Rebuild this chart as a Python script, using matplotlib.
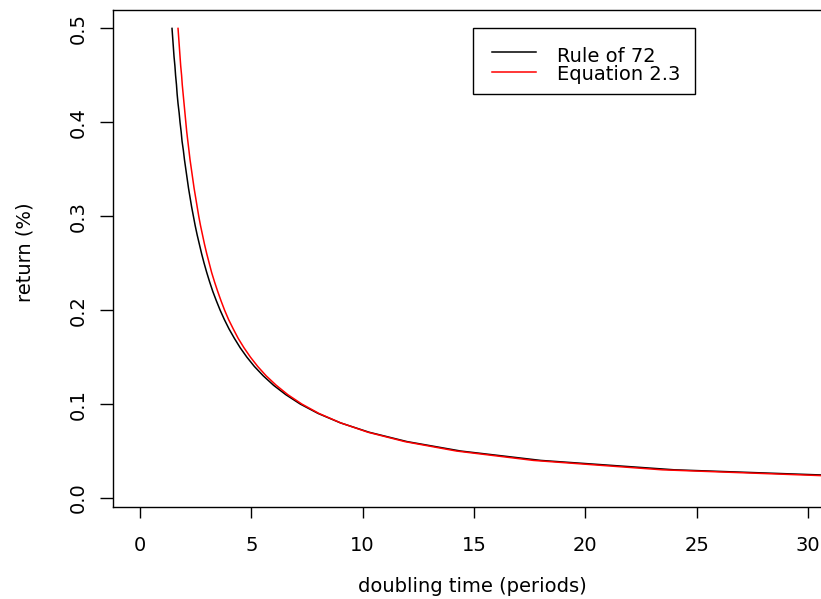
import matplotlib
matplotlib.use("Agg")
import matplotlib.pyplot as plt
from matplotlib.patches import Rectangle
from matplotlib.lines import Line2D

plt.rcParams['font.family'] = ['DejaVu Sans']

# returns (y values)
returns = [0.01, 0.02, 0.03, 0.04, 0.05, 0.06, 0.07, 0.08, 0.09, 0.10,
           0.11, 0.12, 0.13, 0.14, 0.15, 0.16, 0.17, 0.18, 0.19, 0.20,
           0.21, 0.22, 0.23, 0.24, 0.25, 0.26, 0.27, 0.28, 0.29, 0.30,
           0.31, 0.32, 0.33, 0.34, 0.35, 0.36, 0.37, 0.38, 0.39, 0.40,
           0.41, 0.42, 0.43, 0.44, 0.45, 0.46, 0.47, 0.48, 0.49, 0.50]

# doubling times, Rule of 72
t_rule72 = [72.0, 36.0, 24.0, 18.0, 14.4, 12.0, 10.29, 9.0, 8.0, 7.2,
            6.55, 6.0, 5.54, 5.14, 4.8, 4.5, 4.24, 4.0, 3.79, 3.6,
            3.43, 3.27, 3.13, 3.0, 2.88, 2.77, 2.67, 2.57, 2.48, 2.4,
            2.32, 2.25, 2.18, 2.12, 2.06, 2.0, 1.95, 1.89, 1.85, 1.8,
            1.76, 1.71, 1.67, 1.64, 1.6, 1.57, 1.53, 1.5, 1.47, 1.44]

# doubling times, Equation 2.3
t_eq23 = [69.66, 35.0, 23.45, 17.67, 14.21, 11.9, 10.24, 9.01, 8.04, 7.27,
          6.64, 6.12, 5.67, 5.29, 4.96, 4.67, 4.41, 4.19, 3.98, 3.8,
          3.64, 3.49, 3.35, 3.22, 3.11, 3.0, 2.9, 2.81, 2.72, 2.64,
          2.57, 2.5, 2.43, 2.37, 2.31, 2.25, 2.2, 2.15, 2.1, 2.06,
          2.02, 1.98, 1.94, 1.9, 1.87, 1.83, 1.8, 1.77, 1.74, 1.71]

series_labels = ['Rule of 72', 'Equation 2.3']
series_colors = ['black', 'red']

x_ticks = [0, 5, 10, 15, 20, 25, 30]
y_ticks = [0.0, 0.1, 0.2, 0.3, 0.4, 0.5]
y_ticklabels = ["0.0", "0.1", "0.2", "0.3", "0.4", "0.5"]

W, H = 821, 599
FS = 14
fig = plt.figure(figsize=(W / 100, H / 100), dpi=100)
left, right, top, bottom = 113, 821, 10, 507
ax = fig.add_axes([left / W, (H - bottom) / H, (right - left) / W, (bottom - top) / H])

for tx, lab, col in zip([t_rule72, t_eq23], series_labels, series_colors):
    ax.plot(tx, returns, color=col, lw=1.1, label=lab)

ax.set_xlim(-1.21, 30.58)
ax.set_ylim(-0.0096, 0.5196)
ax.spines['right'].set_visible(False)
for s in ['left', 'top', 'bottom']:
    ax.spines[s].set_linewidth(1.0)

ax.set_xticks(x_ticks)
ax.set_xticklabels([str(v) for v in x_ticks])
ax.set_yticks(y_ticks)
ax.set_yticklabels(y_ticklabels, rotation=90, va='center')
ax.tick_params(axis='x', direction='out', length=8, width=1.0, labelsize=FS, pad=13)
ax.tick_params(axis='y', direction='out', length=9.4, width=1.0, labelsize=FS, pad=9)

fig.text(472 / W, 1 - 586 / H, 'doubling time (periods)', ha='center', va='center', fontsize=FS)
fig.text(25 / W, 1 - 252 / H, 'return (%)', ha='center', va='center', rotation=90, fontsize=FS)

# legend box drawn in figure pixels
def fx(px):
    return px / W

def fy(py):
    return 1 - py / H

fig.add_artist(Rectangle((fx(473), fy(94)), fx(695) - fx(473), fy(28) - fy(94),
                         transform=fig.transFigure, facecolor='white',
                         edgecolor='black', linewidth=1.0))
for lab, col, ly, by in zip(series_labels, series_colors, [51.5, 71.5], [61.5, 80.5]):
    fig.add_artist(Line2D([fx(492), fx(536)], [fy(ly), fy(ly)], color=col, lw=1.1,
                          transform=fig.transFigure))
    fig.text(fx(557), fy(by), lab, ha='left', va='baseline', fontsize=FS)

fig.savefig('out.png', dpi=100)
